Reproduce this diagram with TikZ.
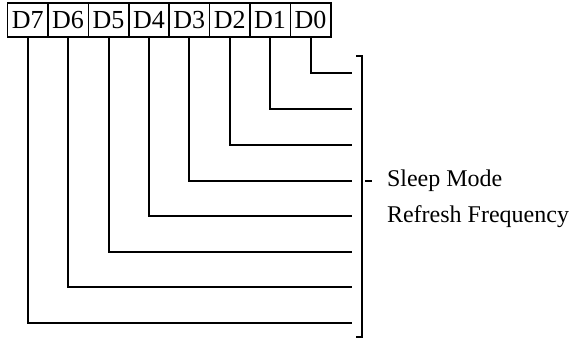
\documentclass[tikz,border=0pt]{standalone}
\usepackage{fontspec}
\setmainfont{Liberation Serif}
\usepackage{tikz}

\begin{document}
\begin{tikzpicture}[x=0.5pt, y=-0.5pt, every node/.style={font=\fontsize{12}{14}\selectfont},
    bitbox/.style={draw, line width=0.8pt, minimum width=20.2pt, minimum height=17pt, inner sep=0pt, font=\fontsize{13}{15}\selectfont},
    wire/.style={line width=1pt}]
                \useasboundingbox (0,0) rectangle (572,341);

                \node[bitbox] (D7) at (27.7,20) {D7};
                \node[bitbox] (D6) at (68.1,20) {D6};
                \node[bitbox] (D5) at (108.5,20) {D5};
                \node[bitbox] (D4) at (148.9,20) {D4};
                \node[bitbox] (D3) at (189.3,20) {D3};
                \node[bitbox] (D2) at (229.7,20) {D2};
                \node[bitbox] (D1) at (270.1,20) {D1};
                \node[bitbox] (D0) at (310.5,20) {D0};

                \coordinate (E0) at (352,73);
                \coordinate (E1) at (352,109);
                \coordinate (E2) at (352,145);
                \coordinate (E3) at (352,181);
                \coordinate (E4) at (352,216);
                \coordinate (E5) at (352,252);
                \coordinate (E6) at (352,287);
                \coordinate (E7) at (352,323);

                \draw[wire] (D0.south) |- (E0);
                \draw[wire] (D1.south) |- (E1);
                \draw[wire] (D2.south) |- (E2);
                \draw[wire] (D3.south) |- (E3);
                \draw[wire] (D4.south) |- (E4);
                \draw[wire] (D5.south) |- (E5);
                \draw[wire] (D6.south) |- (E6);
                \draw[wire] (D7.south) |- (E7);

                % bracket over all bits
                \coordinate (BT) at (356,56);
                \coordinate (BB) at (356,337);
                \draw[wire] (BT) -- ++(6,0) |- (BB);
                \coordinate (T1) at (365,181);
                \coordinate (T2) at (372,181);
                \draw[wire] (T1) -- (T2);

                \node[anchor=west] (sleep) at (380,181) {Sleep Mode};
                \node[anchor=west] (refresh) at (380,217) {Refresh Frequency};
            \end{tikzpicture}
\end{document}
